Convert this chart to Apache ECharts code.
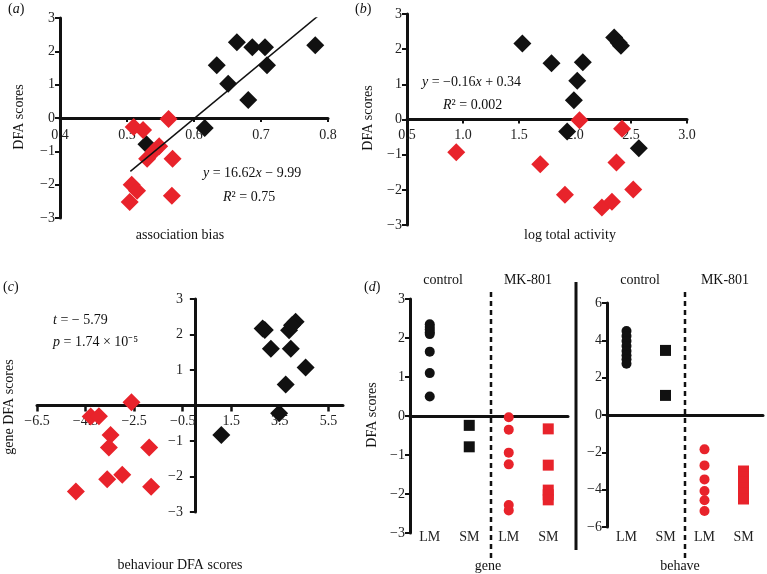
<!DOCTYPE html>
<html>
<head>
<meta charset="utf-8">
<script src="https://cdn.jsdelivr.net/npm/echarts@6/dist/echarts.min.js"></script>
<style>
html,body{margin:0;padding:0;background:#fff;}
#chart{width:767px;height:574px;}
</style>
</head>
<body>
<div id="chart"></div>
<script>
// (a) association bias vs DFA scores
var aBlack = [[0.664,2.27],[0.687,2.12],[0.706,2.12],[0.781,2.18],[0.634,1.58],[0.709,1.58],[0.651,1.03],[0.681,0.54],[0.616,-0.30],[0.529,-0.79]];
var aRed = [[0.562,-0.03],[0.51,-0.27],[0.524,-0.36],[0.548,-0.85],[0.54,-1.0],[0.53,-1.22],[0.568,-1.22],[0.507,-2.0],[0.515,-2.18],[0.567,-2.33],[0.504,-2.52]];
var aTrend = [[0.505,-1.60],[0.785,3.06]];
// (b) log total activity vs DFA scores
var bBlack = [[1.53,2.16],[1.79,1.6],[2.07,1.63],[2.02,1.1],[1.99,0.55],[1.93,-0.34],[2.35,2.33],[2.39,2.18],[2.41,2.1],[2.57,-0.82]];
var bRed = [[2.04,-0.02],[2.42,-0.26],[0.94,-0.93],[1.69,-1.27],[2.37,-1.22],[1.91,-2.14],[2.52,-1.99],[2.24,-2.5],[2.33,-2.34]];
// (c) behaviour DFA vs gene DFA
var cBlack = [[2.79,2.17],[2.88,2.13],[3.13,1.6],[3.95,1.6],[3.88,2.12],[4.15,2.36],[4.0,2.26],[4.56,1.07],[3.74,0.59],[3.47,-0.22],[1.09,-0.83]];
var cRed = [[-2.61,0.09],[-4.29,-0.31],[-3.95,-0.30],[-3.47,-0.83],[-3.54,-1.18],[-1.88,-1.18],[-3.61,-2.08],[-2.99,-1.95],[-1.80,-2.29],[-4.90,-2.42]];
// (d) groups
var dCats = ['LM','SM','LM','SM'];
var geneCtrlLM = [2.35,2.28,2.22,2.15,2.1,1.65,1.1,0.5];
var geneCtrlSM = [-0.24,-0.79];
var geneMkLM = [-0.03,-0.35,-0.94,-1.24,-2.28,-2.42];
var geneMkSM = [-0.33,-1.26,-1.9,-2.02,-2.15];
var behCtrlLM = [4.5,4.23,3.96,3.7,3.43,3.2,2.98,2.75];
var behCtrlSM = [3.46,1.05];
var behMkLM = [-1.84,-2.7,-3.45,-4.07,-4.57,-5.14];
var behMkSM = [-3.0,-3.3,-3.6,-3.9,-4.2,-4.5];

var BLACK = '#111111', RED = '#e8232b';
var FONT = 'Liberation Serif';

function minus(v){ return String(v).replace('-', '\u2212'); }

function valAxis(grid, min, max, interval, fmt, extra){
    var ax = {
        type: 'value', gridIndex: grid, min: min, max: max, interval: interval,
        axisLine: {show: true, onZero: true, lineStyle: {color: BLACK, width: 3}},
        axisTick: {show: true, length: 5, lineStyle: {color: BLACK, width: 2}},
        axisLabel: {color: '#222', fontFamily: FONT, fontSize: 14, margin: 5,
            formatter: fmt || function(v){ return minus(v); }},
        splitLine: {show: false}
    };
    for (var k in extra) ax[k] = extra[k];
    return ax;
}
function lab(margin, fmt){
    return {color: '#222', fontFamily: FONT, fontSize: 14, margin: margin, formatter: fmt};
}
function pts(idx, arr){ return arr.map(function(v){ return [idx, v]; }); }
function sc(x, y, data, color, symbol, size){
    return {type: 'scatter', xAxisIndex: x, yAxisIndex: y, data: data, symbol: symbol,
        symbolSize: size, itemStyle: {color: color, opacity: 1}, z: color === RED ? 4 : 3};
}

var myChart = echarts.init(document.getElementById('chart'));
function t(x, y, text, opt){
    var st = {text: text, fontFamily: FONT, fontSize: 14, fill: '#111',
        rich: {i: {fontStyle: 'italic', fontFamily: FONT, fontSize: 14, fill: '#111'}}};
    for (var k in opt) st[k] = opt[k];
    return {type: 'text', x: x, y: y, style: st, z: 10};
}
function vt(x, y, text){
    return {type: 'text', x: x, y: y, rotation: Math.PI / 2,
        style: {text: text, fontFamily: FONT, fontSize: 14, fill: '#111', align: 'center', verticalAlign: 'middle'}, z: 10};
}
var fx1 = function(v){ return v.toFixed(1); };
var tick4 = {show: true, length: 4, lineStyle: {color: BLACK, width: 2}};

var option = {
    animation: false,
    grid: [
        {left: 60, top: 18, width: 268, height: 200},
        {left: 407, top: 14, width: 280, height: 211},
        {left: 37, top: 299, width: 306, height: 213},
        {left: 410, top: 299, width: 158, height: 234},
        {left: 607, top: 303, width: 156, height: 224}
    ],
    xAxis: [
        valAxis(0, 0.4, 0.8, 0.1, null, {axisTick: tick4, axisLabel: lab(-90, fx1)}),
        valAxis(1, 0.5, 3.0, 0.5, null, {axisTick: tick4, axisLabel: lab(-97, fx1)}),
        valAxis(2, -6.5, 6.1, 2, null, {axisTick: {show: true, length: 6, lineStyle: {color: BLACK, width: 2.5}},
            axisLabel: lab(-98, function(v){ return minus(v.toFixed(1)); })}),
        {type: 'category', gridIndex: 3, data: dCats, position: 'bottom',
            axisLine: {onZero: true, lineStyle: {color: BLACK, width: 3}},
            axisTick: {alignWithLabel: true, length: 7, lineStyle: {color: BLACK, width: 3}},
            axisLabel: {show: false}},
        {type: 'category', gridIndex: 3, data: dCats, position: 'bottom',
            axisLine: {show: false, onZero: false}, axisTick: {show: false},
            axisLabel: lab(-3)},
        {type: 'category', gridIndex: 4, data: dCats, position: 'bottom',
            axisLine: {onZero: true, lineStyle: {color: BLACK, width: 3}},
            axisTick: {alignWithLabel: true, length: 7, lineStyle: {color: BLACK, width: 3}},
            axisLabel: {show: false}},
        {type: 'category', gridIndex: 4, data: dCats, position: 'bottom',
            axisLine: {show: false, onZero: false}, axisTick: {show: false},
            axisLabel: lab(3)}
    ],
    yAxis: [
        valAxis(0, -3, 3, 1),
        valAxis(1, -3, 3, 1),
        valAxis(2, -3, 3, 1, null, {axisLabel: lab(-146, function(v){ return v === 0 ? '' : minus(v); })}),
        valAxis(3, -3, 3, 1),
        valAxis(4, -6, 6, 2)
    ],
    series: [
        sc(0, 0, aBlack, BLACK, 'diamond', 18),
        sc(0, 0, aRed, RED, 'diamond', 18),
        {type: 'line', xAxisIndex: 0, yAxisIndex: 0, data: aTrend, symbol: 'none',
            lineStyle: {color: BLACK, width: 1.5}, z: 5},
        sc(1, 1, bBlack, BLACK, 'diamond', 18),
        sc(1, 1, bRed, RED, 'diamond', 18),
        sc(2, 2, cBlack, BLACK, 'diamond', 18),
        sc(2, 2, cRed, RED, 'diamond', 18),
        sc(3, 3, pts(0, geneCtrlLM), BLACK, 'circle', 10),
        sc(3, 3, pts(1, geneCtrlSM), BLACK, 'rect', 11),
        sc(3, 3, pts(2, geneMkLM), RED, 'circle', 10),
        sc(3, 3, pts(3, geneMkSM), RED, 'rect', 11),
        sc(5, 4, pts(0, behCtrlLM), BLACK, 'circle', 10),
        sc(5, 4, pts(1, behCtrlSM), BLACK, 'rect', 11),
        sc(5, 4, pts(2, behMkLM), RED, 'circle', 10),
        sc(5, 4, pts(3, behMkSM), RED, 'rect', 11)
    ],
    graphic: [
        t(8, 2, '({i|a})'),
        t(355, 2, '({i|b})'),
        t(3, 280, '({i|c})'),
        t(364, 280, '({i|d})'),
        vt(19, 117, 'DFA scores'),
        vt(368, 118, 'DFA scores'),
        vt(9, 407, 'gene DFA scores'),
        vt(372, 415, 'DFA scores'),
        t(180, 235, 'association bias', {align: 'center', verticalAlign: 'middle'}),
        t(570, 235, 'log total activity', {align: 'center', verticalAlign: 'middle'}),
        t(180, 565, 'behaviour DFA scores', {align: 'center', verticalAlign: 'middle'}),
        t(203, 173, '{i|y} = 16.62{i|x} \u2212 9.99', {verticalAlign: 'middle'}),
        t(223, 197, '{i|R}\u00b2 = 0.75', {verticalAlign: 'middle'}),
        t(422, 82, '{i|y} = \u22120.16{i|x} + 0.34', {verticalAlign: 'middle'}),
        t(443, 105, '{i|R}\u00b2 = 0.002', {verticalAlign: 'middle'}),
        t(53, 320, '{i|t} = \u2212 5.79', {verticalAlign: 'middle'}),
        t(53, 342, '{i|p} = 1.74 \u00d7 10\u207b\u2075', {verticalAlign: 'middle'}),
        t(443, 280, 'control', {align: 'center', verticalAlign: 'middle'}),
        t(528, 280, 'MK-801', {align: 'center', verticalAlign: 'middle'}),
        t(640, 280, 'control', {align: 'center', verticalAlign: 'middle'}),
        t(725, 280, 'MK-801', {align: 'center', verticalAlign: 'middle'}),
        t(488, 566, 'gene', {align: 'center', verticalAlign: 'middle'}),
        t(680, 566, 'behave', {align: 'center', verticalAlign: 'middle'}),
        {type: 'line', shape: {x1: 491, y1: 292, x2: 491, y2: 558}, style: {stroke: BLACK, lineWidth: 2.5, lineDash: [5, 4]}, z: 1},
        {type: 'line', shape: {x1: 685, y1: 292, x2: 685, y2: 558}, style: {stroke: BLACK, lineWidth: 2.5, lineDash: [5, 4]}, z: 1},
        {type: 'line', shape: {x1: 576, y1: 282, x2: 576, y2: 550}, style: {stroke: BLACK, lineWidth: 3}, z: 1}
    ]
};
myChart.setOption(option);
window.addEventListener('resize', function () { myChart.resize(); });
</script>
</body>
</html>
